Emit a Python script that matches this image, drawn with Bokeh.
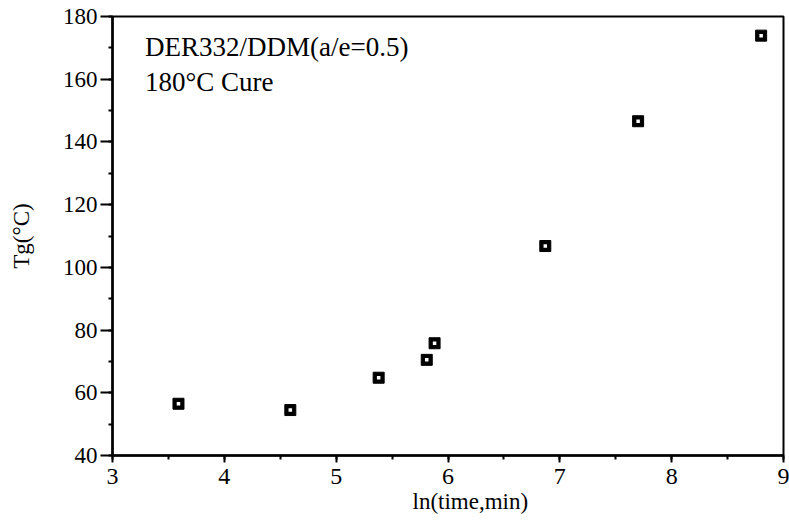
from bokeh.plotting import figure
from bokeh.models import Label, SingleIntervalTicker, Range1d, Title
from bokeh.embed import file_html
from bokeh.resources import INLINE

# data
ln_time = [3.59, 4.59, 5.38, 5.81, 5.88, 6.87, 7.70, 8.80]
tg = [56.5, 54.5, 64.8, 70.5, 75.8, 106.8, 146.6, 173.9]

x_label = "ln(time,min)"
y_label = "Tg(°C)"
title_lines = ["DER332/DDM(a/e=0.5)", "180°C Cure"]

FONT = "Liberation Serif"

p = figure(width=789, height=527, frame_width=671, frame_height=439,
           min_border_left=112, min_border_right=6, min_border_top=16,
           min_border_bottom=72, output_backend="svg", toolbar_location=None,
           x_range=Range1d(3, 9), y_range=Range1d(40, 180))

p.xgrid.visible = False
p.ygrid.visible = False
p.outline_line_color = "black"
p.outline_line_width = 2
p.background_fill_color = "white"
p.border_fill_color = "white"

p.xaxis.ticker = SingleIntervalTicker(interval=1, num_minor_ticks=2)
p.yaxis.ticker = SingleIntervalTicker(interval=20, num_minor_ticks=2)

for ax in (p.xaxis[0], p.yaxis[0]):
    ax.axis_line_width = 2.5
    ax.axis_line_color = "black"
    ax.major_tick_line_width = 2
    ax.minor_tick_line_width = 2
    ax.major_tick_in = 0
    ax.minor_tick_in = 0
    ax.minor_tick_out = 4
    ax.major_label_text_font = FONT
    ax.major_label_text_color = "black"
    ax.axis_label_text_font = FONT
    ax.axis_label_text_font_size = "23px"
    ax.axis_label_text_font_style = "normal"
    ax.axis_label_text_color = "black"

p.xaxis.major_tick_out = 7
p.yaxis.major_tick_out = 12
p.xaxis.major_label_text_font_size = "24px"
p.yaxis.major_label_text_font_size = "23px"
p.xaxis.major_label_standoff = 6
p.yaxis.major_label_standoff = 3
p.yaxis.axis_label = y_label
p.yaxis.axis_label_standoff = 26

p.scatter(ln_time, tg, marker="square", size=11, fill_color="black", line_color="black")
p.scatter(ln_time, tg, marker="square", size=3.5, fill_color="white", line_color=None)

xt = Title(text=x_label, align="left", offset=300, text_font=FONT,
           text_font_size="23px", text_font_style="normal", text_color="black",
           standoff=0)
p.add_layout(xt, "below")

p.add_layout(Label(x=3.29, y=170.4, text=title_lines[0], text_font=FONT,
                   text_font_size="27px", text_baseline="alphabetic", text_color="black"))
p.add_layout(Label(x=3.29, y=159.2, text=title_lines[1], text_font=FONT,
                   text_font_size="27px", text_baseline="alphabetic", text_color="black"))

open("out.html", "w").write(file_html(p, INLINE))
